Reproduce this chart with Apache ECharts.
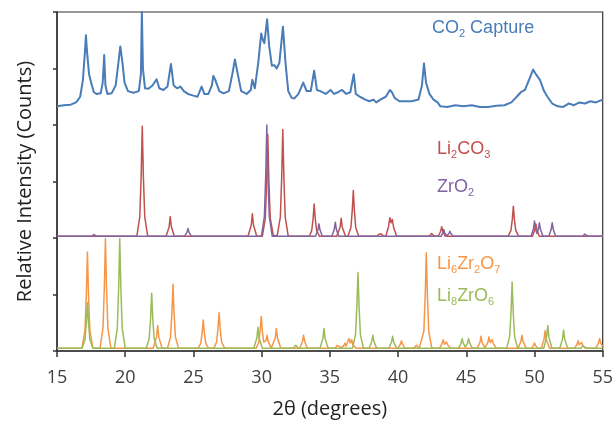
<!DOCTYPE html>
<html>
<head>
<meta charset="utf-8">
<script src="https://cdn.jsdelivr.net/npm/echarts@6/dist/echarts.min.js"></script>
<style>
html,body{margin:0;padding:0;background:#fff;}
#c{width:616px;height:427px;}
</style>
</head>
<body>
<div id="c"></div>
<script>
// x-axis tick labels (2θ, degrees)
var xTicks = [15, 20, 25, 30, 35, 40, 45, 50, 55];

// CO2 Capture (measured pattern, offset panel)
var co2Capture = [[15,4.33],[15.5,4.35],[16,4.36],[16.4,4.4],[16.7,4.5],[16.9,4.8],[17.05,5.3],[17.12,5.59],[17.2,5.3],[17.35,4.9],[17.5,4.75],[17.7,4.58],[17.9,4.55],[18.2,4.56],[18.35,4.75],[18.46,5.24],[18.55,4.7],[18.7,4.55],[19.0,4.56],[19.3,4.7],[19.5,5.1],[19.64,5.39],[19.8,5.1],[19.95,4.75],[20.2,4.6],[20.6,4.57],[21.0,4.6],[21.15,4.9],[21.22,6.0],[21.3,5.0],[21.45,4.65],[21.7,4.64],[22.0,4.7],[22.3,4.81],[22.5,4.65],[22.8,4.62],[23.1,4.68],[23.35,5.08],[23.55,4.7],[23.8,4.65],[24.05,4.68],[24.3,4.6],[24.6,4.55],[25.0,4.52],[25.3,4.5],[25.6,4.68],[25.8,4.55],[26.1,4.55],[26.35,4.7],[26.46,4.87],[26.6,4.8],[26.7,4.82],[26.9,4.6],[27.2,4.56],[27.6,4.6],[27.85,4.9],[28.04,5.16],[28.25,4.9],[28.5,4.6],[28.9,4.55],[29.2,4.62],[29.32,4.8],[29.5,4.65],[29.75,5.1],[29.97,5.62],[30.1,5.5],[30.2,5.45],[30.4,5.87],[30.55,5.4],[30.75,5.05],[30.93,5.06],[31.1,5.0],[31.3,5.1],[31.56,5.74],[31.75,5.1],[31.95,4.6],[32.2,4.48],[32.4,4.47],[32.7,4.55],[33.05,4.75],[33.3,4.6],[33.6,4.6],[33.85,4.96],[34.05,4.62],[34.3,4.6],[34.7,4.55],[35.05,4.62],[35.3,4.55],[35.6,4.58],[35.9,4.62],[36.2,4.55],[36.5,4.58],[36.75,4.9],[36.9,4.55],[37.2,4.5],[37.6,4.45],[37.9,4.42],[38.2,4.45],[38.4,4.4],[38.7,4.45],[39.1,4.5],[39.4,4.62],[39.55,4.58],[39.75,4.48],[40.1,4.42],[40.6,4.42],[41.0,4.42],[41.5,4.45],[41.75,4.7],[41.9,5.09],[42.05,4.75],[42.3,4.55],[42.6,4.45],[42.9,4.4],[43.1,4.33],[43.6,4.32],[44.2,4.35],[44.8,4.33],[45.4,4.35],[46.0,4.32],[46.6,4.32],[47.2,4.34],[47.8,4.35],[48.3,4.4],[48.7,4.5],[49.0,4.58],[49.3,4.62],[49.6,4.8],[49.9,4.98],[50.1,4.9],[50.4,4.8],[50.7,4.6],[50.95,4.5],[51.3,4.38],[51.7,4.33],[52.1,4.32],[52.5,4.38],[52.9,4.35],[53.3,4.4],[53.7,4.38],[54.1,4.42],[54.5,4.4],[55,4.45]];

// Li2CO3 reference pattern (middle panel)
var li2co3 = [[15,2.03],
[20.85,2.03],[21.07,2.38],[21.17,3.10],[21.25,3.98],[21.33,3.10],[21.43,2.38],[21.65,2.03],
[23.0,2.03],[23.22,2.20],[23.3,2.38],[23.38,2.20],[23.6,2.03],
[29.0,2.03],[29.24,2.23],[29.32,2.43],[29.4,2.23],[29.64,2.03],
[30.05,2.03],[30.27,2.35],[30.37,3.02],[30.45,3.83],[30.53,3.02],[30.63,2.35],[30.85,2.05],[31.0,2.04],[31.15,2.05],[31.37,2.37],[31.47,3.07],[31.55,3.92],[31.63,3.07],[31.73,2.37],[31.95,2.03],
[33.5,2.03],[33.67,2.13],[33.77,2.34],[33.85,2.6],[33.93,2.34],[34.03,2.13],[34.25,2.03],
[35.5,2.03],[35.75,2.19],[35.83,2.35],[35.91,2.19],[36.15,2.03],
[36.32,2.03],[36.54,2.18],[36.64,2.48],[36.72,2.84],[36.8,2.48],[36.9,2.18],[37.12,2.03],
[38.45,2.03],[38.62,2.07],[38.7,2.1],[38.78,2.07],[38.95,2.03],
[39.1,2.03],[39.3,2.2],[39.4,2.36],[39.49,2.27],[39.58,2.33],[39.68,2.18],[39.9,2.03],
[42.3,2.03],[42.45,2.08],[42.5,2.1],[42.55,2.08],[42.7,2.03],
[42.95,2.03],[43.12,2.12],[43.2,2.2],[43.28,2.12],[43.45,2.03],
[48.05,2.03],[48.27,2.13],[48.37,2.32],[48.45,2.56],[48.53,2.32],[48.63,2.13],[48.85,2.03],
[49.85,2.03],[50.02,2.14],[50.1,2.25],[50.18,2.14],[50.35,2.03],
[55,2.03]];

// ZrO2 reference pattern (middle panel)
var zro2 = [[15,2.03],
[17.55,2.03],[17.7,2.06],[17.75,2.08],[17.8,2.06],[17.95,2.03],
[24.35,2.03],[24.52,2.1],[24.6,2.17],[24.68,2.1],[24.85,2.03],
[29.98,2.03],[30.2,2.38],[30.3,3.11],[30.38,4.0],[30.46,3.11],[30.56,2.38],[30.78,2.03],
[33.95,2.03],[34.12,2.14],[34.2,2.25],[34.28,2.14],[34.45,2.03],
[35.15,2.03],[35.32,2.15],[35.4,2.28],[35.48,2.15],[35.65,2.03],
[43.15,2.03],[43.28,2.09],[43.35,2.15],[43.42,2.09],[43.57,2.04],[43.73,2.08],[43.8,2.12],[43.87,2.08],[44.05,2.03],
[49.75,2.03],[49.92,2.16],[50.0,2.3],[50.08,2.16],[50.18,2.08],[50.28,2.15],[50.36,2.27],[50.44,2.15],[50.62,2.03],
[51.05,2.03],[51.22,2.15],[51.3,2.27],[51.38,2.15],[51.55,2.03],
[53.55,2.03],[53.68,2.07],[53.75,2.1],[53.82,2.07],[53.95,2.03],
[55,2.03]];

// Li6Zr2O7 reference pattern (bottom panel)
var li6zr2o7 = [[15,0.05],
[16.83,0.05],[17.05,0.36],[17.15,0.99],[17.23,1.75],[17.31,0.99],[17.41,0.36],[17.63,0.05],
[18.15,0.05],[18.37,0.40],[18.47,1.12],[18.55,1.99],[18.63,1.12],[18.73,0.40],[18.95,0.05],
[22.05,0.05],[22.3,0.25],[22.38,0.45],[22.46,0.25],[22.7,0.05],
[23.1,0.05],[23.32,0.25],[23.42,0.67],[23.5,1.18],[23.58,0.67],[23.68,0.25],[23.9,0.05],
[25.35,0.05],[25.54,0.14],[25.64,0.33],[25.72,0.55],[25.8,0.33],[25.9,0.14],[26.1,0.05],
[26.5,0.05],[26.7,0.16],[26.8,0.4],[26.88,0.68],[26.96,0.4],[27.06,0.16],[27.28,0.05],
[29.6,0.05],[29.79,0.15],[29.89,0.36],[29.97,0.61],[30.05,0.36],[30.15,0.16],[30.25,0.13],[30.32,0.18],[30.4,0.28],[30.48,0.17],[30.7,0.05],
[30.8,0.05],[31.0,0.23],[31.08,0.4],[31.16,0.23],[31.4,0.05],
[32.8,0.05],[32.99,0.17],[33.07,0.28],[33.15,0.17],[33.35,0.05],
[35.4,0.05],[35.53,0.1],[35.6,0.13],[35.67,0.1],[35.85,0.06],[36.03,0.1],[36.1,0.14],[36.18,0.09],[36.3,0.11],[36.4,0.22],[36.5,0.14],[36.6,0.2],[36.68,0.12],[36.9,0.05],
[40.0,0.05],[40.17,0.12],[40.25,0.18],[40.33,0.12],[40.5,0.05],
[41.15,0.05],[41.28,0.08],[41.35,0.1],[41.42,0.08],[41.55,0.05],
[41.67,0.05],[41.89,0.35],[41.99,0.98],[42.07,1.74],[42.15,0.98],[42.25,0.35],[42.47,0.05],
[43.05,0.05],[43.22,0.13],[43.3,0.2],[43.4,0.12],[43.48,0.12],[43.55,0.16],[43.63,0.11],[43.85,0.05],
[45.8,0.05],[46.0,0.15],[46.08,0.26],[46.16,0.15],[46.36,0.06],
[46.45,0.06],[46.58,0.15],[46.66,0.25],[46.76,0.15],[46.83,0.15],[46.9,0.2],[46.98,0.13],[47.2,0.05],
[48.8,0.05],[49.0,0.17],[49.08,0.28],[49.16,0.17],[49.38,0.05],
[49.8,0.05],[49.93,0.1],[50.0,0.14],[50.07,0.1],[50.22,0.05],
[50.5,0.05],[50.7,0.21],[50.78,0.36],[50.86,0.21],[51.1,0.05],
[52.95,0.05],[53.12,0.12],[53.2,0.18],[53.28,0.11],[53.37,0.11],[53.45,0.15],[53.53,0.1],[53.72,0.05],
[54.5,0.05],[54.69,0.14],[54.77,0.22],[54.85,0.14],[55,0.08]];

// Li8ZrO6 reference pattern (bottom panel)
var li8zro6 = [[15,0.05],
[16.83,0.05],[17.05,0.2],[17.15,0.5],[17.23,0.86],[17.31,0.5],[17.41,0.2],[17.63,0.05],
[19.2,0.05],[19.42,0.4],[19.52,1.12],[19.6,1.99],[19.68,1.12],[19.78,0.4],[20.0,0.05],
[21.54,0.05],[21.76,0.22],[21.86,0.58],[21.94,1.02],[22.02,0.58],[22.12,0.22],[22.34,0.05],
[29.42,0.05],[29.65,0.23],[29.73,0.42],[29.81,0.23],[30.05,0.05],
[32.3,0.05],[32.43,0.08],[32.5,0.1],[32.57,0.08],[32.7,0.05],
[34.28,0.05],[34.49,0.22],[34.57,0.4],[34.65,0.22],[34.88,0.05],
[36.66,0.05],[36.88,0.29],[36.98,0.79],[37.06,1.39],[37.14,0.79],[37.24,0.29],[37.46,0.05],
[37.88,0.05],[38.07,0.17],[38.15,0.28],[38.23,0.17],[38.43,0.05],
[39.33,0.05],[39.52,0.16],[39.6,0.26],[39.68,0.16],[39.88,0.05],
[44.45,0.05],[44.62,0.14],[44.7,0.22],[44.78,0.14],[44.93,0.07],[45.09,0.14],[45.17,0.22],[45.25,0.14],[45.45,0.05],
[47.96,0.05],[48.18,0.26],[48.28,0.69],[48.36,1.22],[48.44,0.69],[48.54,0.26],[48.76,0.05],
[50.68,0.05],[50.89,0.25],[50.97,0.45],[51.05,0.25],[51.28,0.05],
[51.85,0.05],[52.05,0.21],[52.13,0.37],[52.21,0.21],[52.43,0.05],
[53.4,0.05],[53.53,0.09],[53.6,0.12],[53.67,0.09],[53.82,0.05],
[55,0.05]];

var seriesNames = ['CO2 Capture', 'Li2CO3', 'ZrO2', 'Li6Zr2O7', 'Li8ZrO6'];
var xAxisTitle = '2θ (degrees)';
var yAxisTitle = 'Relative Intensity (Counts)';

var C_BLUE = '#4a7cb8', C_RED = '#c0504d', C_PURPLE = '#8064a2', C_ORANGE = '#f79646', C_GREEN = '#9bbb59';
var LABEL_FONT = '"Liberation Sans Narrow", "Arial Narrow", "Liberation Sans", Arial, sans-serif';

function richLabel(parts, color, size) {
  var txt = parts.map(function (p) { return '{' + (p[1] ? 's' : 'n') + '|' + p[0] + '}'; }).join('');
  return {
    text: txt,
    rich: {
      n: { fontSize: size, fontFamily: LABEL_FONT, fill: color, color: color, lineHeight: 22, verticalAlign: 'middle' },
      s: { fontSize: Math.round(size * 0.62), fontFamily: LABEL_FONT, fill: color, color: color, lineHeight: 11, verticalAlign: 'bottom' }
    }
  };
}

function lineSeries(name, data, color, width) {
  return {
    name: name, type: 'line', data: data, showSymbol: false, symbol: 'none',
    smooth: false, animation: false, silent: true,
    lineStyle: { color: color, width: width, join: 'round' }
  };
}

var chart = echarts.init(document.getElementById('c'), null, { renderer: 'canvas' });
var option = {
  backgroundColor: '#ffffff',
  animation: false,
  grid: { left: 57, right: 8, top: 12, bottom: 76, show: true, borderColor: '#333', borderWidth: 1.2, backgroundColor: 'transparent' },
  xAxis: {
    type: 'value', min: xTicks[0], max: xTicks[xTicks.length - 1], interval: 5,
    name: xAxisTitle, nameLocation: 'middle', nameGap: 48,
    nameTextStyle: { fontFamily: '"Open Sans", sans-serif', fontSize: 20, color: '#222' },
    axisLine: { show: true, lineStyle: { color: '#333', width: 1.5 } },
    axisTick: { show: true, length: 6, lineStyle: { color: '#333', width: 1.5 } },
    axisLabel: { fontFamily: '"Open Sans", sans-serif', fontSize: 18, color: '#404040', margin: 18 },
    splitLine: { show: false }
  },
  yAxis: {
    type: 'value', min: 0, max: 6, interval: 1,
    name: yAxisTitle, nameLocation: 'middle', nameGap: 22,
    nameTextStyle: { fontFamily: '"Open Sans", sans-serif', fontSize: 20, color: '#222' },
    axisLine: { show: true, lineStyle: { color: '#333', width: 1.5 } },
    axisTick: { show: true, length: 4, lineStyle: { color: '#333', width: 1.5 } },
    axisLabel: { show: false },
    splitLine: { show: false }
  },
  series: [
    lineSeries(seriesNames[0], co2Capture, C_BLUE, 2),
    lineSeries(seriesNames[1], li2co3, C_RED, 1.5),
    lineSeries(seriesNames[2], zro2, C_PURPLE, 1.5),
    lineSeries(seriesNames[3], li6zr2o7, C_ORANGE, 1.5),
    lineSeries(seriesNames[4], li8zro6, C_GREEN, 1.5)
  ],
  graphic: [
    { type: 'text', left: 432, top: 19, style: richLabel([['CO'], ['2', 1], [' Capture']], C_BLUE, 18) },
    { type: 'text', left: 437, top: 140, style: richLabel([['Li'], ['2', 1], ['CO'], ['3', 1]], C_RED, 18) },
    { type: 'text', left: 437, top: 178, style: richLabel([['ZrO'], ['2', 1]], C_PURPLE, 18) },
    { type: 'text', left: 437, top: 255, style: richLabel([['Li'], ['6', 1], ['Zr'], ['2', 1], ['O'], ['7', 1]], C_ORANGE, 18) },
    { type: 'text', left: 437, top: 287, style: richLabel([['Li'], ['8', 1], ['ZrO'], ['6', 1]], C_GREEN, 18) }
  ]
};
chart.setOption(option);
</script>
</body>
</html>
